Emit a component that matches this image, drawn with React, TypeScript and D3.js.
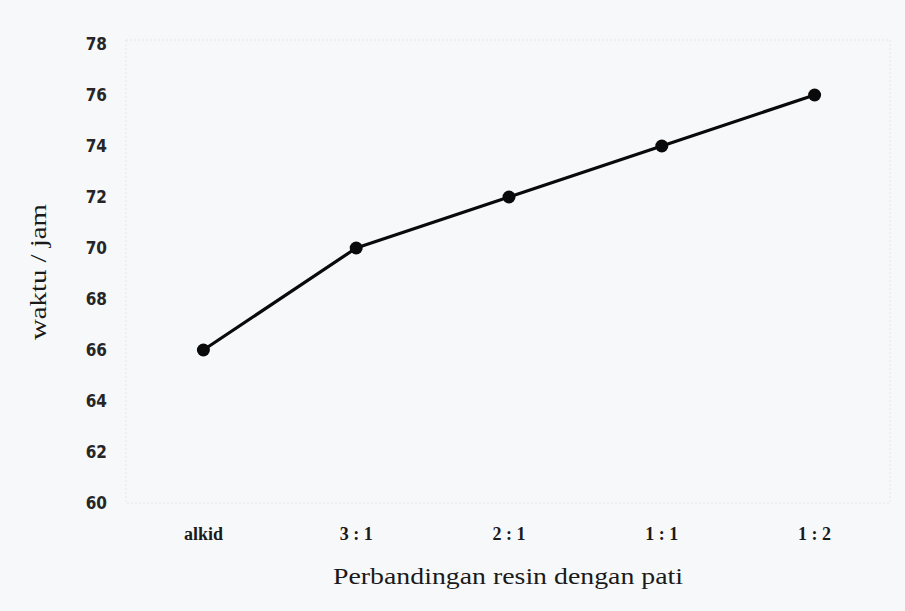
import React, { useEffect, useRef } from "react";
import * as d3 from "d3";

const categories = ["alkid", "3 : 1", "2 : 1", "1 : 1", "1 : 2"];
const values = [66, 70, 72, 74, 76];
const yTicks = [60, 62, 64, 66, 68, 70, 72, 74, 76, 78];
const yLabel = "waktu / jam";
const xLabel = "Perbandingan resin dengan pati";

const W = 905;
const H = 611;
const M = { left: 127, right: 891, top: 44, bottom: 503 };

export default function App() {
  const ref = useRef<SVGSVGElement>(null);
  useEffect(() => {
    const svg = d3.select(ref.current);
    svg.selectAll("*").remove();

    svg.append("rect").attr("width", W).attr("height", H).attr("fill", "#f7f8fa");

    const x = d3.scaleBand<string>().domain(categories).range([M.left, M.right]);
    const y = d3.scaleLinear().domain([60, 78]).range([M.bottom, M.top]);

    // faint plot frame
    svg.append("rect")
      .attr("x", M.left - 1).attr("y", M.top - 4)
      .attr("width", M.right - M.left).attr("height", M.bottom - M.top + 4)
      .attr("fill", "none").attr("stroke", "#e4e6ea").attr("stroke-width", 1)
      .attr("stroke-dasharray", "2,2");

    // y tick labels
    svg.append("g").selectAll("text").data(yTicks).join("text")
      .attr("x", 107)
      .attr("y", (d) => y(d))
      .attr("dy", "0.36em")
      .attr("text-anchor", "end")
      .attr("font-family", "'DejaVu Sans Condensed', 'DejaVu Sans', sans-serif")
      .attr("font-weight", "bold")
      .attr("font-size", 17)
      .attr("fill", "#262626")
      .text((d) => String(d));

    // x tick labels
    svg.append("g").selectAll("text").data(categories).join("text")
      .attr("x", (d) => (x(d) as number) + x.bandwidth() / 2)
      .attr("y", 540)
      .attr("text-anchor", "middle")
      .attr("font-family", "'Liberation Serif', serif")
      .attr("font-weight", "bold")
      .attr("font-size", 18)
      .attr("fill", "#1a1a1a")
      .text((d) => d);

    // axis titles
    svg.append("text")
      .attr("transform", `translate(46, 272) rotate(-90)`)
      .attr("text-anchor", "middle")
      .attr("font-family", "'Liberation Serif', serif")
      .attr("font-size", 23)
      .attr("fill", "#1a1a1a")
      .attr("textLength", 136)
      .attr("lengthAdjust", "spacingAndGlyphs")
      .text(yLabel);

    svg.append("text")
      .attr("x", 508)
      .attr("y", 584)
      .attr("text-anchor", "middle")
      .attr("font-family", "'Liberation Serif', serif")
      .attr("font-size", 24)
      .attr("fill", "#1a1a1a")
      .attr("textLength", 350)
      .attr("lengthAdjust", "spacingAndGlyphs")
      .text(xLabel);

    const pts = categories.map((c, i) => [(x(c) as number) + x.bandwidth() / 2, y(values[i])] as [number, number]);
    svg.append("path")
      .attr("d", d3.line()(pts))
      .attr("fill", "none")
      .attr("stroke", "#0a0a0a")
      .attr("stroke-width", 3.2)
      .attr("stroke-linejoin", "round");

    svg.append("g").selectAll("circle").data(pts).join("circle")
      .attr("cx", (d) => d[0]).attr("cy", (d) => d[1]).attr("r", 6.5)
      .attr("fill", "#0a0a0a");
  }, []);

  return (
    <svg
      ref={ref}
      width={W}
      height={H}
      style={{ position: "absolute", left: 0, top: 0, display: "block" }}
    />
  );
}
